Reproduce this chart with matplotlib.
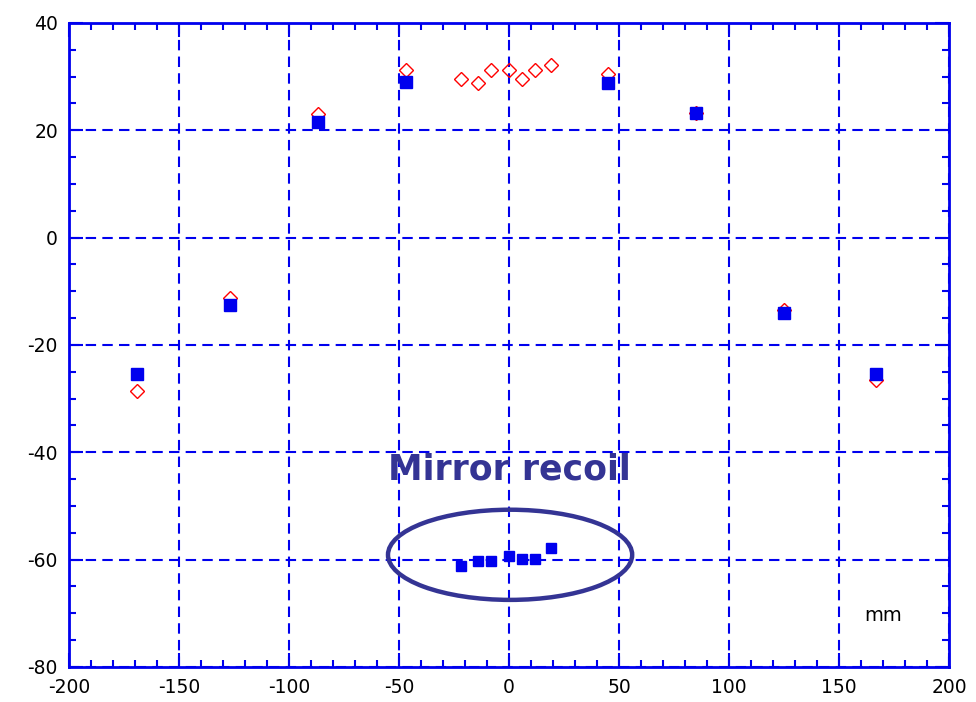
import matplotlib.pyplot as plt
from matplotlib.patches import Ellipse
from matplotlib.ticker import MultipleLocator

# measured positions (x in mm)
x_meas = [-169, -127, -87, -47, 45, 85, 125, 167]
y_meas = [-25.5, -12.5, 21.5, 29.0, 28.8, 23.2, -14.0, -25.5]

# model / reference points
x_ref = [-169, -127, -87, -47, -22, -14, -8, 0, 6, 12, 19, 45, 85, 125, 167]
y_ref = [-28.5, -11.2, 23.1, 31.3, 29.6, 28.8, 31.3, 31.2, 29.6, 31.3, 32.2,
         30.4, 23.2, -13.5, -26.5]

# recoil of the mirror
x_mirror = [-22, -14, -8, 0, 6, 12, 19]
y_mirror = [-61.1, -60.2, -60.2, -59.3, -59.8, -59.8, -57.9]

blue = "#0000ee"
navy = "#343494"

plt.rcParams["axes.unicode_minus"] = False

fig = plt.figure(figsize=(9.76, 7.02), dpi=100)
ax = fig.add_axes([0.0707, 0.0499, 0.9016, 0.9174])

ax.plot(x_ref, y_ref, linestyle="none", marker="D", markersize=7.5,
        markerfacecolor="none", markeredgecolor="red", markeredgewidth=1.0, zorder=3)
ax.plot(x_meas, y_meas, linestyle="none", marker="s", markersize=8,
        color=blue, zorder=4)
ax.plot(x_mirror, y_mirror, linestyle="none", marker="s", markersize=7,
        color=blue, zorder=4)

ax.add_patch(Ellipse((0.5, -59.1), 111, 16.8, fill=False,
                     edgecolor=navy, linewidth=3.2, zorder=5))
ax.text(0, -43.2, "Mirror recoil", color=navy, fontsize=25, fontweight="bold",
        ha="center", va="center")
ax.text(170, -70.5, "mm", fontsize=14, ha="center", va="center")

ax.set_xlim(-200, 200)
ax.set_ylim(-80, 40)
ax.xaxis.set_major_locator(MultipleLocator(50))
ax.xaxis.set_minor_locator(MultipleLocator(10))
ax.yaxis.set_major_locator(MultipleLocator(20))
ax.yaxis.set_minor_locator(MultipleLocator(5))

ax.grid(True, which="major", color=blue, linestyle=(0, (5, 3)), linewidth=1.5)
ax.set_axisbelow(True)

for s in ax.spines.values():
    s.set_color(blue)
    s.set_linewidth(2)
ax.tick_params(which="both", direction="in", top=True, right=True,
               color=blue, labelsize=13.5, labelcolor="black")
ax.tick_params(which="major", length=10, width=1.5, pad=8)
ax.tick_params(which="minor", length=5, width=1.5)

fig.savefig("out.png", dpi=100)
